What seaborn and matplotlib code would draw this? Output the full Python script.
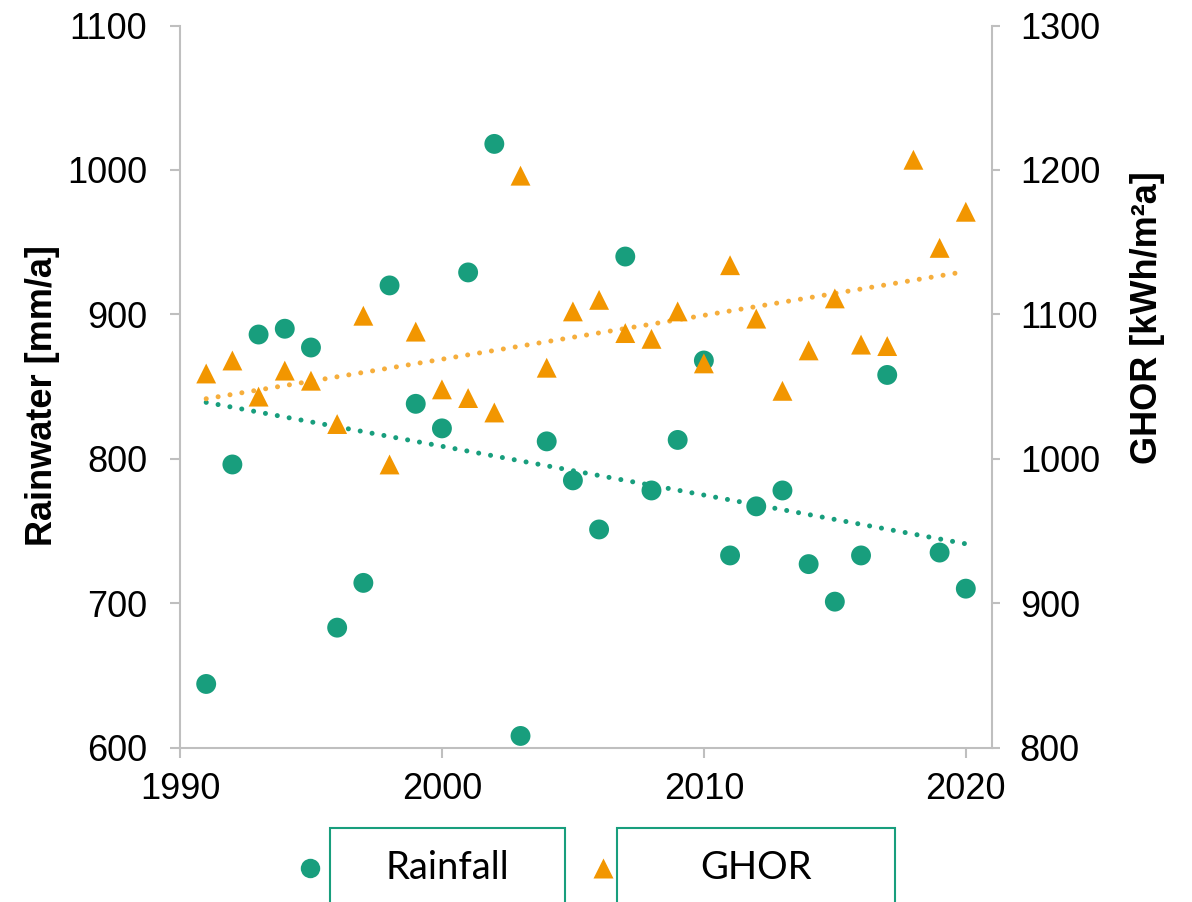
import numpy as np
import pandas as pd
import matplotlib
matplotlib.use("Agg")
import matplotlib.pyplot as plt
from matplotlib.lines import Line2D
from matplotlib.patches import Rectangle
import seaborn as sns

# values (2018 rainfall sits below the 600 floor)
years = list(range(1991, 2021))
rainfall = [644, 796, 886, 890, 877, 683, 714, 920, 838, 821,
            929, 1018, 608, 812, 785, 751, 940, 778, 813, 868,
            733, 767, 778, 727, 701, 733, 858, 588, 735, 710]
ghor = [1059, 1068, 1043, 1061, 1054, 1024, 1099, 996, 1088, 1048,
        1042, 1032, 1196, 1063, 1102, 1110, 1087, 1083, 1102, 1066,
        1134, 1097, 1047, 1075, 1111, 1079, 1078, 1207, 1146, 1171]
left_ticks = [600, 700, 800, 900, 1000, 1100]
right_ticks = [800, 900, 1000, 1100, 1200, 1300]
x_ticks = [1990, 2000, 2010, 2020]

df = pd.DataFrame({"Year": years, "Rainfall": rainfall, "GHOR": ghor})

GREEN = "#189E7D"
ORANGE = "#F29600"
ORANGE_TREND = "#F6AE3C"
GRID = "#BFBFBF"

sns.set_style("white")
plt.rcParams["font.family"] = ["Liberation Sans", "DejaVu Sans"]
plt.rcParams["text.color"] = "black"
plt.rcParams["axes.labelcolor"] = "black"

fig = plt.figure(figsize=(11.92, 9.02), dpi=100)
ax = fig.add_axes([180 / 1192, 1 - 747.5 / 902, (992 - 180) / 1192, (747.5 - 25.5) / 902])
ax2 = ax.twinx()

# rainfall on the left axis
sns.scatterplot(data=df, x="Year", y="Rainfall", ax=ax, color=GREEN, marker="o",
                s=205, edgecolor="none", zorder=3)
sns.regplot(data=df, x="Year", y="Rainfall", ax=ax, scatter=False, ci=None,
            line_kws=dict(color=GREEN, lw=3.6, ls=(0, (0.01, 2.4)),
                          dash_capstyle="round"))

# irradiation on the right axis
sns.scatterplot(data=df, x="Year", y="GHOR", ax=ax2, color=ORANGE, marker="^",
                s=205, edgecolor="none", zorder=3)
sns.regplot(data=df, x="Year", y="GHOR", ax=ax2, scatter=False, ci=None,
            line_kws=dict(color=ORANGE_TREND, lw=3.6, ls=(0, (0.01, 2.4)),
                          dash_capstyle="round"))

ax.set_xlim(1990, 2021)
ax.set_ylim(600, 1100)
ax2.set_ylim(800, 1300)
ax.set_xticks(x_ticks)
ax.set_yticks(left_ticks)
ax2.set_yticks(right_ticks)

ax.set_xlabel("")
ax.set_ylabel("Rainwater [mm/a]", fontsize=26, fontweight="bold", va="center")
ax2.set_ylabel("GHOR [kWh/m²a]", fontsize=26, fontweight="bold", va="center")
ax.yaxis.set_label_coords(-0.169, 0.488)
ax2.yaxis.set_label_coords(1.192, 0.596)

for a in (ax, ax2):
    for side in a.spines:
        a.spines[side].set_visible(False)
        a.spines[side].set_color(GRID)
        a.spines[side].set_linewidth(1.5)
ax.spines["left"].set_visible(True)
ax.spines["bottom"].set_visible(True)
ax2.spines["right"].set_visible(True)

ax.tick_params(axis="x", direction="out", length=7.5, width=1.5, color=GRID,
               labelsize=26, labelcolor="black", pad=10, bottom=True)
ax.tick_params(axis="y", direction="out", length=7.5, width=1.5, color=GRID,
               labelsize=26, labelcolor="black", pad=16, left=True)
ax2.tick_params(axis="y", direction="out", length=6, width=1.5, color=GRID,
                labelsize=26, labelcolor="black", pad=14, right=True)

# legend drawn as boxed labels below the plot
fig.add_artist(Line2D([310 / 1192], [1 - 868 / 902], marker="o", ms=14, color=GREEN,
                      mec="none", ls="none", transform=fig.transFigure))
fig.add_artist(Line2D([603 / 1192], [1 - 868 / 902], marker="^", ms=14, color=ORANGE,
                      mec="none", ls="none", transform=fig.transFigure))
for x0, x1, label in [(330, 565, "Rainfall"), (617, 895, "GHOR")]:
    fig.add_artist(Rectangle((x0 / 1192, -0.05), (x1 - x0) / 1192, 0.05 + 1 - 828 / 902,
                             transform=fig.transFigure, fill=False,
                             edgecolor=GREEN, lw=1.5))
    fig.text((x0 + x1) / 2 / 1192, 1 - 868 / 902, label, ha="center", va="center",
             fontsize=27.5, family=["Lato", "DejaVu Sans"])

fig.savefig("out.png", dpi=100)
